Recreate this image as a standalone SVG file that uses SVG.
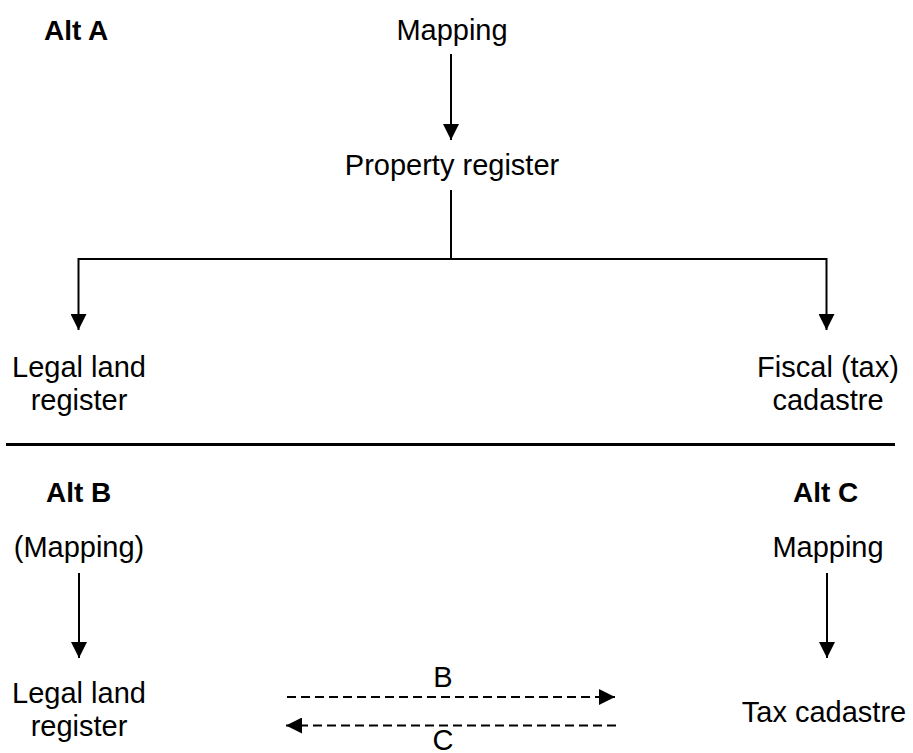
<svg xmlns="http://www.w3.org/2000/svg" width="913" height="753" viewBox="0 0 913 753">
  <defs>
    <style>
      .t { font-family: "Liberation Sans", Arial, sans-serif; font-size: 29px; fill: #000; text-anchor: middle; }
      .h { font-family: "Liberation Sans", Arial, sans-serif; font-size: 28px; font-weight: bold; fill: #000; }
      .ln { stroke: #000; stroke-width: 2; fill: none; }
      .dash { stroke: #000; stroke-width: 2; fill: none; stroke-dasharray: 9 5; }
    </style>
    <marker id="arr" viewBox="0 0 16 16" refX="16" refY="8" markerWidth="16" markerHeight="16" markerUnits="userSpaceOnUse" orient="auto">
      <path d="M0,0 L16,8 L0,16 Z" fill="#000"/>
    </marker>
  </defs>
  <rect width="913" height="753" fill="#fff"/>

  <!-- section headings -->
  <text class="h" x="44" y="40">Alt A</text>
  <text class="h" x="46" y="502">Alt B</text>
  <text class="h" x="793" y="502">Alt C</text>

  <!-- Alternative A -->
  <g id="a-mapping"><text class="t" x="452" y="40">Mapping</text></g>
  <g id="a-property"><text class="t" x="452" y="175">Property register</text></g>
  <g id="a-legal"><text class="t" x="79" y="377">Legal land</text><text class="t" x="79" y="410">register</text></g>
  <g id="a-fiscal"><text class="t" x="828" y="377">Fiscal (tax)</text><text class="t" x="828" y="410">cadastre</text></g>

  <!-- divider -->
  <line x1="6" y1="444.5" x2="895" y2="444.5" stroke="#000" stroke-width="3"/>

  <!-- Alternatives B and C -->
  <g id="b-mapping"><text class="t" x="79" y="557">(Mapping)</text></g>
  <g id="b-legal"><text class="t" x="79" y="703">Legal land</text><text class="t" x="79" y="736">register</text></g>
  <g id="c-mapping"><text class="t" x="828" y="557">Mapping</text></g>
  <g id="c-tax"><text class="t" x="824" y="722">Tax cadastre</text></g>
  <g id="flow-labels">
    <text class="t" x="443" y="687">B</text>
    <text class="t" x="443" y="750">C</text>
  </g>

  <g id="connectors">
    <line class="ln" x1="451" y1="54" x2="451" y2="140" marker-end="url(#arr)"/>
    <line class="ln" x1="451" y1="190" x2="451" y2="259"/>
    <line class="ln" x1="78.5" y1="259" x2="826.5" y2="259"/>
    <polyline class="ln" points="79.5,259 78.5,259 78.5,330" marker-end="url(#arr)"/>
    <polyline class="ln" points="825.5,259 826.5,259 826.5,330" marker-end="url(#arr)"/>
    <line class="ln" x1="79" y1="573" x2="79" y2="658" marker-end="url(#arr)"/>
    <line class="ln" x1="827" y1="573" x2="827" y2="658" marker-end="url(#arr)"/>
    <line class="dash" x1="287" y1="697" x2="615" y2="697" marker-end="url(#arr)"/>
    <line class="dash" x1="616" y1="725.5" x2="286" y2="725.5" marker-end="url(#arr)"/>
  </g>
</svg>
